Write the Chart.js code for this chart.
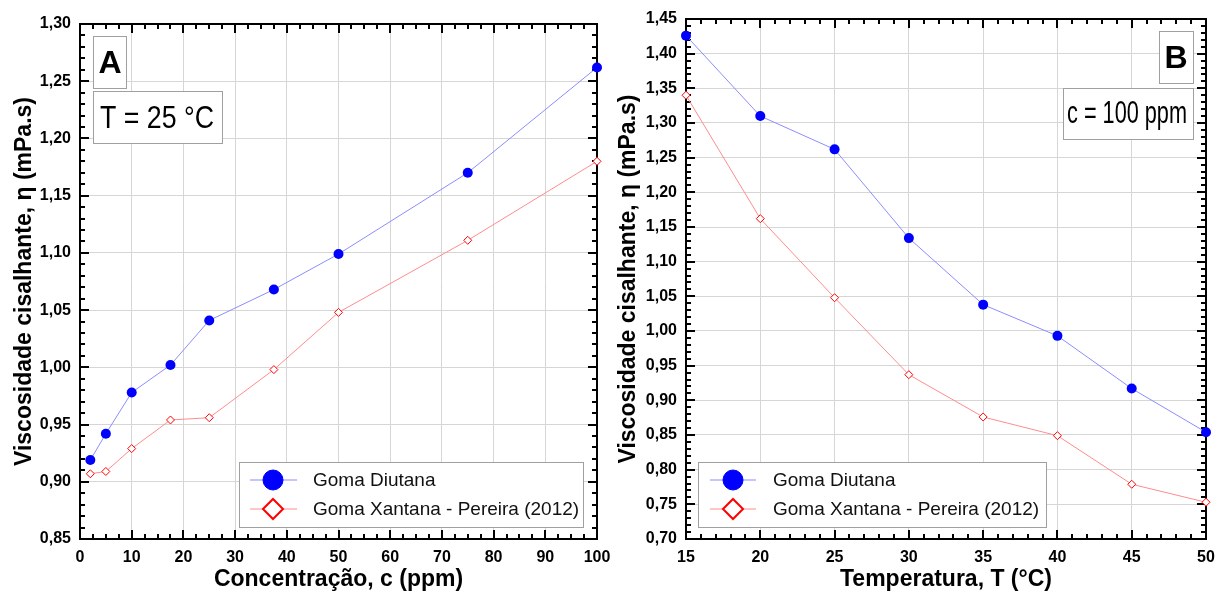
<!DOCTYPE html>
<html>
<head>
<meta charset="utf-8">
<script src="https://cdn.jsdelivr.net/npm/chart.js@4.4.1/dist/chart.umd.min.js"></script>
<style>
  html, body { margin: 0; padding: 0; background: #fff; }
  #wrap { position: relative; width: 1217px; height: 592px; overflow: hidden; }
  #wrap canvas { position: absolute; top: 0; }
  #chartA { left: 0; }
  #chartB { left: 600px; }
</style>
</head>
<body>
<div id="wrap">
  <canvas id="chartA" width="620" height="592"></canvas>
  <canvas id="chartB" width="640" height="592"></canvas>
</div>
<script>
// panel A: viscosity vs concentration (T = 25 °C)
var concA = [2, 5, 10, 17.5, 25, 37.5, 50, 75, 100];
var diutanaA = [0.919, 0.942, 0.978, 1.002, 1.041, 1.068, 1.099, 1.170, 1.262];
var xantanaA = [0.907, 0.909, 0.929, 0.954, 0.956, 0.998, 1.048, 1.111, 1.180];

// panel B: viscosity vs temperature (c = 100 ppm)
var tempB = [15, 20, 25, 30, 35, 40, 45, 50];
var diutanaB = [1.426, 1.310, 1.262, 1.134, 1.038, 0.993, 0.917, 0.854];
var xantanaB = [1.340, 1.162, 1.048, 0.937, 0.876, 0.849, 0.779, 0.753];

var xTicksA = [0, 10, 20, 30, 40, 50, 60, 70, 80, 90, 100];
var yTicksA = [0.85, 0.90, 0.95, 1.00, 1.05, 1.10, 1.15, 1.20, 1.25, 1.30];
var xTicksB = [15, 20, 25, 30, 35, 40, 45, 50];
var yTicksB = [0.70, 0.75, 0.80, 0.85, 0.90, 0.95, 1.00, 1.05, 1.10, 1.15, 1.20, 1.25, 1.30, 1.35, 1.40, 1.45];

var seriesNames = ['Goma Diutana', 'Goma Xantana - Pereira (2012)'];
var yTitle = 'Viscosidade cisalhante, \u03b7 (mPa.s)';
var xTitleA = 'Concentração, c (ppm)';
var xTitleB = 'Temperatura, T (°C)';

var Viscosity = Viscosity || {};

(function () {

  Chart.defaults.font.family = '"Liberation Sans", Arial, sans-serif';
  Chart.defaults.color = '#000';

  Viscosity = {

    fmt: function (v) {
      return v.toFixed(2).replace('.', ',');
    },

    toPoints: function (xs, ys) {
      return xs.map(function (x, i) {
        return {x: x, y: ys[i]};
      });
    },

    datasets: function (xs, diutana, xantana) {
      return [
        {
          label: seriesNames[0],
          data: this.toPoints(xs, diutana),
          borderColor: '#8c8cff',
          borderWidth: 1,
          pointStyle: 'circle',
          pointRadius: 5,
          pointBackgroundColor: '#0000ff',
          pointBorderColor: '#0000ff',
          pointBorderWidth: 0,
          legendFill: '#0000ff',
          legendBorder: 1,
          clip: false,
          order: 0
        },
        {
          label: seriesNames[1],
          data: this.toPoints(xs, xantana),
          borderColor: '#ff8c8c',
          borderWidth: 1,
          pointStyle: 'rectRot',
          pointRadius: 4,
          pointBackgroundColor: '#ffffff',
          pointBorderColor: '#ff0000',
          pointBorderWidth: 1,
          legendFill: '#ffffff',
          legendBorder: 2,
          clip: false,
          order: 1
        }
      ];
    },

    // frame + inward major/minor ticks on all four sides
    drawFrame: function (chart, minorX, minorY) {
      var ctx = chart.ctx,
        a = chart.chartArea,
        xs = chart.scales.x,
        ys = chart.scales.y,
        xMajor = xs.ticks.map(function (t) { return t.value; }),
        yMajor = ys.ticks.map(function (t) { return t.value; }),
        isMajor = function (list, v) {
          return list.some(function (t) { return Math.abs(t - v) < 1e-6; });
        };

      ctx.save();
      ctx.strokeStyle = '#000';
      ctx.lineWidth = 2;
      ctx.beginPath();

      var nx = Math.round((xs.max - xs.min) / minorX);
      for (var i = 0; i <= nx; i++) {
        var vx = xs.min + i * minorX,
          px = Math.round(xs.getPixelForValue(vx)),
          lx = isMajor(xMajor, vx) ? 9 : 5;
        ctx.moveTo(px, a.bottom);
        ctx.lineTo(px, a.bottom - lx);
        ctx.moveTo(px, a.top);
        ctx.lineTo(px, a.top + lx);
      }

      var ny = Math.round((ys.max - ys.min) / minorY);
      for (var j = 0; j <= ny; j++) {
        var vy = ys.min + j * minorY,
          py = Math.round(ys.getPixelForValue(vy)),
          ly = isMajor(yMajor, vy) ? 9 : 5;
        ctx.moveTo(a.left, py);
        ctx.lineTo(a.left + ly, py);
        ctx.moveTo(a.right, py);
        ctx.lineTo(a.right - ly, py);
      }
      ctx.stroke();

      ctx.strokeRect(a.left, a.top, a.right - a.left, a.bottom - a.top);
      ctx.restore();
    },

    drawLegend: function (chart, box) {
      var ctx = chart.ctx;
      ctx.save();
      ctx.fillStyle = '#fff';
      ctx.fillRect(box.x, box.y, box.w, box.h);
      ctx.strokeStyle = '#a0a0a0';
      ctx.lineWidth = 1;
      ctx.strokeRect(box.x + 0.5, box.y + 0.5, box.w, box.h);

      chart.data.datasets.forEach(function (ds, i) {
        var y = box.y + box.rows[i];
        ctx.strokeStyle = ds.borderColor;
        ctx.lineWidth = 1;
        ctx.beginPath();
        ctx.moveTo(box.x + box.line0, y);
        ctx.lineTo(box.x + box.line1, y);
        ctx.stroke();

        ctx.fillStyle = ds.legendFill;
        ctx.strokeStyle = ds.pointBorderColor;
        ctx.lineWidth = ds.legendBorder;
        Chart.helpers.drawPoint(ctx, {
          pointStyle: ds.pointStyle,
          radius: 10,
          rotation: 0,
          borderWidth: ds.legendBorder
        }, box.x + box.mark, y);

        ctx.fillStyle = '#111';
        ctx.font = '19px "Liberation Sans", Arial, sans-serif';
        ctx.textAlign = 'left';
        ctx.textBaseline = 'middle';
        ctx.fillText(ds.label, box.x + box.text, y + 1);
      });
      ctx.restore();
    },

    drawNotes: function (chart, notes) {
      var ctx = chart.ctx;
      ctx.save();
      notes.forEach(function (n) {
        ctx.fillStyle = '#fff';
        ctx.fillRect(n.x, n.y, n.w, n.h);
        ctx.strokeStyle = '#a0a0a0';
        ctx.lineWidth = 1;
        ctx.strokeRect(n.x + 0.5, n.y + 0.5, n.w, n.h);
        ctx.fillStyle = '#000';
        ctx.font = n.font;
        ctx.textAlign = 'center';
        ctx.textBaseline = 'alphabetic';
        ctx.fillText(n.text, n.cx, n.base, n.maxW);
      });
      ctx.restore();
    },

    makeChart: function (id, cfg) {
      var self = this;
      return new Chart(document.getElementById(id), {
        type: 'line',
        data: {datasets: this.datasets(cfg.xs, cfg.diutana, cfg.xantana)},
        options: {
          responsive: false,
          animation: false,
          events: [],
          layout: {padding: {top: cfg.padTop, right: cfg.padRight, left: 0, bottom: 0}},
          plugins: {legend: {display: false}, tooltip: {enabled: false}},
          scales: {
            x: {
              type: 'linear',
              min: cfg.xTicks[0],
              max: cfg.xTicks[cfg.xTicks.length - 1],
              afterBuildTicks: function (s) {
                s.ticks = cfg.xTicks.map(function (v) { return {value: v}; });
              },
              afterFit: function (s) { s.height = 53; },
              grid: {color: '#d6d6d6', lineWidth: 1, drawTicks: false},
              border: {display: false},
              ticks: {
                autoSkip: false,
                maxRotation: 0,
                padding: 9,
                font: {size: 16, weight: 'bold'},
                callback: function (v) { return String(v); }
              },
              title: {
                display: true,
                text: cfg.xTitle,
                font: {size: 23, weight: 'bold', lineHeight: 1.1},
                padding: {top: 0, bottom: 0}
              }
            },
            y: {
              type: 'linear',
              min: cfg.yTicks[0],
              max: cfg.yTicks[cfg.yTicks.length - 1],
              afterBuildTicks: function (s) {
                s.ticks = cfg.yTicks.map(function (v) { return {value: v}; });
              },
              afterFit: function (s) { s.width = cfg.yWidth; },
              grid: {color: '#d6d6d6', lineWidth: 1, drawTicks: false},
              border: {display: false},
              ticks: {
                autoSkip: false,
                padding: 9,
                font: {size: 16, weight: 'bold'},
                callback: function (v) { return self.fmt(v); }
              },
              title: {
                display: true,
                text: yTitle,
                font: {size: 23, weight: 'bold', lineHeight: 1.1},
                padding: {top: cfg.yTitlePad, bottom: 0}
              }
            }
          }
        },
        plugins: [{
          id: 'decor',
          beforeDatasetsDraw: function (chart) {
            self.drawFrame(chart, cfg.minorX, cfg.minorY);
          },
          afterDraw: function (chart) {
            self.drawLegend(chart, cfg.legend);
            self.drawNotes(chart, cfg.notes);
          }
        }]
      });
    },

    setup: function () {
      this.makeChart('chartA', {
        xs: concA, diutana: diutanaA, xantana: xantanaA,
        xTicks: xTicksA, yTicks: yTicksA, xTitle: xTitleA,
        minorX: 2.5, minorY: 0.01,
        padTop: 24, padRight: 23, yWidth: 80, yTitlePad: 12,
        legend: {x: 239, y: 462, w: 344, h: 65, rows: [18, 47], line0: 11, line1: 58, mark: 34, text: 74},
        notes: [
          {x: 93, y: 36, w: 33, h: 52, text: 'A', font: 'bold 32px "Liberation Sans", Arial', cx: 110, base: 73},
          {x: 93, y: 91, w: 129, h: 52, text: 'T = 25 °C', font: '32px "Liberation Sans Narrow", "Liberation Sans", Arial', cx: 157, base: 128, maxW: 114}
        ]
      });

      this.makeChart('chartB', {
        xs: tempB, diutana: diutanaB, xantana: xantanaB,
        xTicks: xTicksB, yTicks: yTicksB, xTitle: xTitleB,
        minorX: 1, minorY: 0.01,
        padTop: 19, padRight: 34, yWidth: 86, yTitlePad: 16,
        legend: {x: 98, y: 462, w: 348, h: 65, rows: [18, 47], line0: 12, line1: 58, mark: 35, text: 75},
        notes: [
          {x: 559, y: 31, w: 34, h: 52, text: 'B', font: 'bold 32px "Liberation Sans", Arial', cx: 576, base: 68},
          {x: 463, y: 88, w: 130, h: 51, text: 'c = 100 ppm', font: '32px "Liberation Sans Narrow", "Liberation Sans", Arial', cx: 527, base: 123, maxW: 120}
        ]
      });
    }
  };
})();

Viscosity.setup();
</script>
</body>
</html>
